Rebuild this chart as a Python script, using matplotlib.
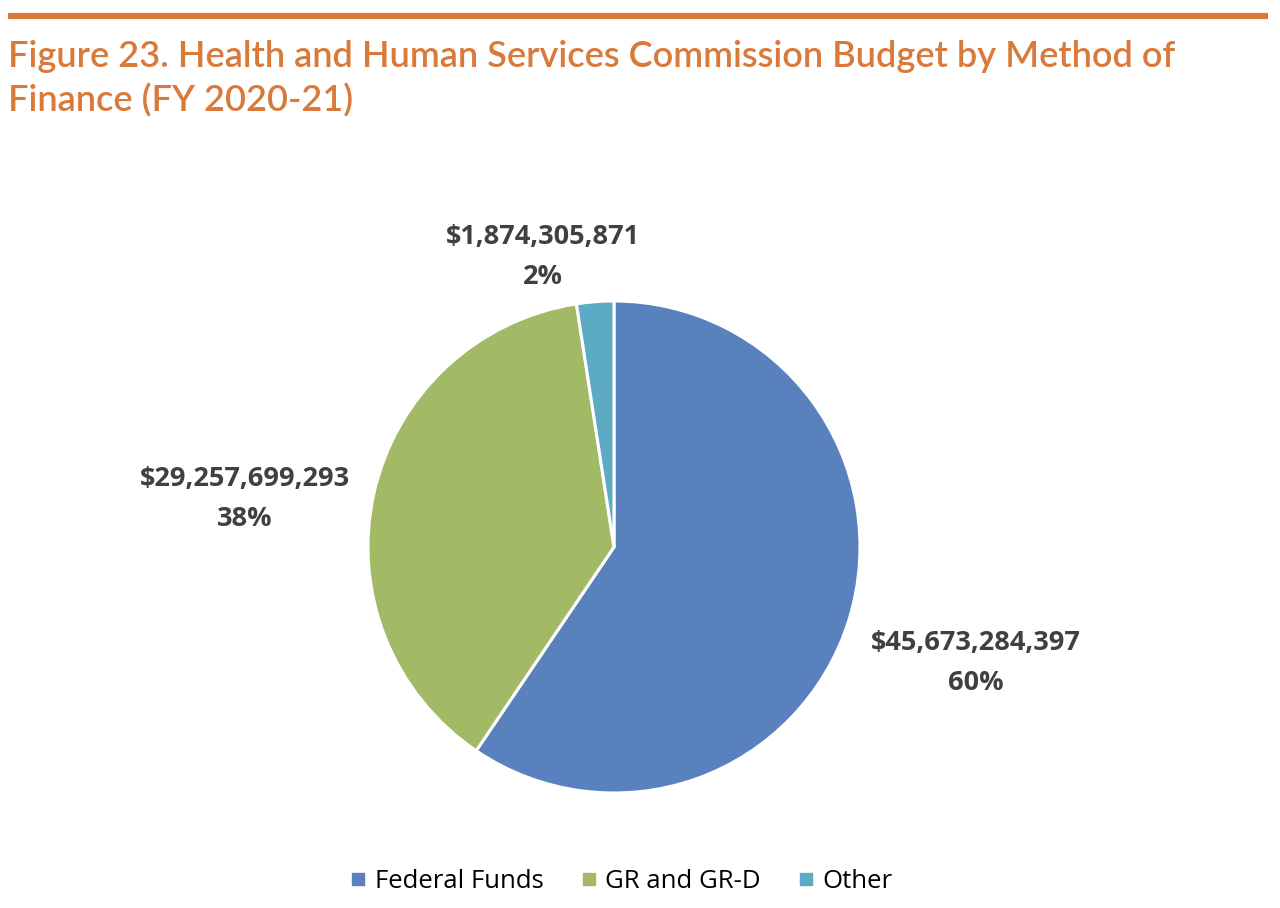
import matplotlib
matplotlib.use("Agg")
import matplotlib.pyplot as plt
from matplotlib.lines import Line2D

# data
CATEGORIES = ["Federal Funds", "GR and GR-D", "Other"]
AMOUNTS = [45673284397, 29257699293, 1874305871]
PERCENT_LABELS = ["60%", "38%", "2%"]
COLORS = ["#5981BD", "#A2BA66", "#5DAAC5"]

TITLE = "Figure 23. Health and Human Services Commission Budget by Method of\nFinance (FY 2020-21)"
ORANGE = "#D9793A"
LABEL_GRAY = "#404040"

W, H = 1280, 908
fig = plt.figure(figsize=(W / 100, H / 100), dpi=100)

# orange rule across the top
fig.add_artist(Line2D([8 / W, 1268 / W], [1 - 16 / H, 1 - 16 / H],
                      color=ORANGE, linewidth=4.5, solid_capstyle="butt"))
fig.text(8 / W, 1 - 40 / H, TITLE, ha="left", va="top", color=ORANGE,
         fontsize=26, family="Lato", fontweight="semibold", linespacing=1.36)

# pie axes: centre (614, 547) px, radius 246 px
cx, cy, r = 614, H - 547, 246
xl, xr, yb, yt = -2.2, 2.2, -1.2, 1.4
ax = fig.add_axes([(cx + xl * r) / W, (cy + yb * r) / H,
                   (xr - xl) * r / W, (yt - yb) * r / H])
wedges, _ = ax.pie(AMOUNTS, colors=COLORS, startangle=90, counterclock=False,
                   radius=1, wedgeprops=dict(edgecolor="white", linewidth=2.2))
ax.set_xlim(xl, xr)
ax.set_ylim(yb, yt)
ax.set_aspect("auto")
ax.axis("off")

label_pos = [(1.47, -0.47), (-1.50, 0.195), (-0.29, 1.18)]
for amt, pct, (lx, ly) in zip(AMOUNTS, PERCENT_LABELS, label_pos):
    ax.text(lx, ly, f"${amt:,}\n{pct}", ha="center", va="center",
            color=LABEL_GRAY, fontsize=19.5, fontweight="bold",
            family="Open Sans", linespacing=1.7)

handles = [Line2D([], [], marker="s", linestyle="none", markersize=9,
                  markerfacecolor=c, markeredgecolor=c) for c in COLORS]
fig.legend(handles, CATEGORIES, loc="center", bbox_to_anchor=(621 / W, 27 / H),
           ncol=3, frameon=False, prop=dict(family="Open Sans", size=18.5),
           handletextpad=0.3, columnspacing=1.4, handlelength=0.7)

fig.savefig("out.png", dpi=100)
